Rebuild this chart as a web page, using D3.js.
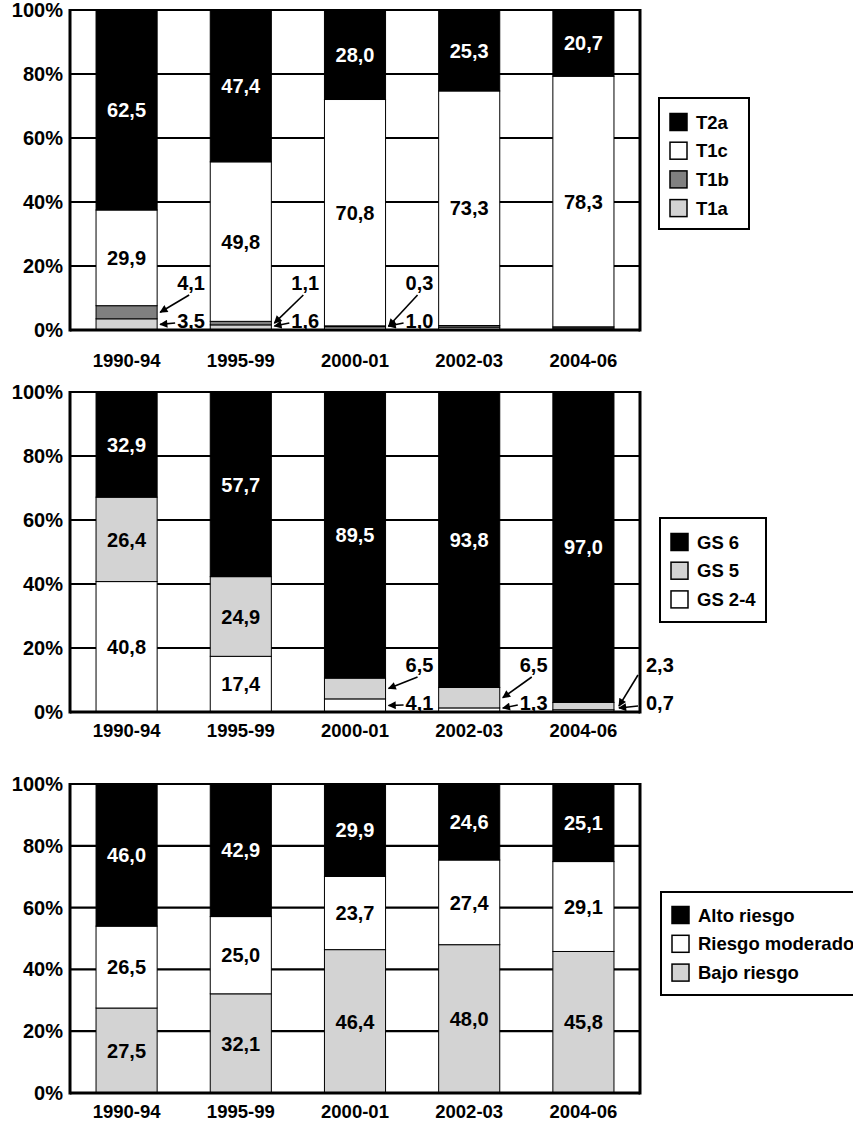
<!DOCTYPE html>
<html>
<head>
<meta charset="utf-8">
<script src="https://cdn.jsdelivr.net/npm/d3@7"></script>
<style>
  html, body { margin: 0; padding: 0; background: #fff; }
  svg { display: block; }
  text { font-family: "Liberation Sans", Arial, sans-serif; font-weight: bold; }
</style>
</head>
<body>
<svg id="chart" width="853" height="1124"></svg>
<script>
// ---------- DATA ----------
const periods = ["1990-94", "1995-99", "2000-01", "2002-03", "2004-06"];
const yTickValues = [0, 20, 40, 60, 80, 100];
const yTickLabels = ["0%", "20%", "40%", "60%", "80%", "100%"];

// Panel 1: clinical stage (bottom → top)
const stageKeys = ["T1a", "T1b", "T1c", "T2a"];
const stageT1a = [3.5, 1.6, 1.0, 0.9, 0.6];
const stageT1b = [4.1, 1.1, 0.3, 0.5, 0.4];
const stageT1c = [29.9, 49.8, 70.8, 73.3, 78.3];
const stageT2a = [62.5, 47.4, 28.0, 25.3, 20.7];
const stageAnnotated = ["1990-94", "1995-99", "2000-01"];

// Panel 2: Gleason score (bottom → top)
const gleasonKeys = ["GS 2-4", "GS 5", "GS 6"];
const gleason24 = [40.8, 17.4, 4.1, 1.3, 0.7];
const gleason5 = [26.4, 24.9, 6.5, 6.5, 2.3];
const gleason6 = [32.9, 57.7, 89.5, 93.8, 97.0];
const gleasonAnnotated = ["2000-01", "2002-03", "2004-06"];

// Panel 3: risk group (bottom → top)
const riskKeys = ["Bajo riesgo", "Riesgo moderado", "Alto riesgo"];
const riskBajo = [27.5, 32.1, 46.4, 48.0, 45.8];
const riskModerado = [26.5, 25.0, 23.7, 27.4, 29.1];
const riskAlto = [46.0, 42.9, 29.9, 24.6, 25.1];
const riskAnnotated = [];

// ---------- HELPERS ----------
const BLACK = "#000000", WHITE = "#ffffff", MID = "#808080", LIGHT = "#d3d3d3";
const fmt = v => d3.format(".1f")(v).replace(".", ",");
const svg = d3.select("#chart");

svg.append("defs").append("marker")
  .attr("id", "arrow")
  .attr("viewBox", "0 0 10 10")
  .attr("refX", 9).attr("refY", 5)
  .attr("markerWidth", 10).attr("markerHeight", 8)
  .attr("markerUnits", "userSpaceOnUse")
  .attr("orient", "auto")
  .append("path").attr("d", "M0,0 L10,5 L0,10 Z").attr("fill", BLACK);

const PLOT_LEFT = 70, PLOT_RIGHT = 640;

function drawPanel(cfg) {
  const rows = periods.map((p, i) => {
    const r = { period: p };
    cfg.keys.forEach((k, j) => { r[k] = cfg.series[j][i]; });
    return r;
  });
  const stacked = d3.stack().keys(cfg.keys).offset(d3.stackOffsetExpand)(rows);

  const x = d3.scaleBand().domain(periods).range([PLOT_LEFT, PLOT_RIGHT])
    .paddingInner(0.465).paddingOuter(0.228);
  const y = d3.scaleLinear().domain([0, 100]).range([cfg.bottom, cfg.top]);
  const color = d3.scaleOrdinal().domain(cfg.keys).range(cfg.colors);

  const g = svg.append("g");

  // background & gridlines
  g.append("rect").attr("x", PLOT_LEFT).attr("y", cfg.top)
    .attr("width", PLOT_RIGHT - PLOT_LEFT).attr("height", cfg.bottom - cfg.top)
    .attr("fill", WHITE);
  g.selectAll("line.grid").data(yTickValues).join("line")
    .attr("class", "grid")
    .attr("x1", PLOT_LEFT).attr("x2", PLOT_RIGHT)
    .attr("y1", d => y(d)).attr("y2", d => y(d))
    .attr("stroke", BLACK).attr("stroke-width", 2.2);

  // bars
  const layer = g.selectAll("g.layer").data(stacked).join("g")
    .attr("class", "layer").attr("fill", d => color(d.key));
  layer.selectAll("rect").data(d => d).join("rect")
    .attr("x", d => x(d.data.period))
    .attr("width", x.bandwidth())
    .attr("y", d => y(d[1] * 100))
    .attr("height", d => Math.max(0, y(d[0] * 100) - y(d[1] * 100)))
    .attr("stroke", BLACK).attr("stroke-width", 1);

  // frame (left, right, bottom)
  g.append("line").attr("x1", PLOT_LEFT).attr("x2", PLOT_LEFT)
    .attr("y1", cfg.top - 1).attr("y2", cfg.bottom + 1.5)
    .attr("stroke", BLACK).attr("stroke-width", 3);
  g.append("line").attr("x1", PLOT_RIGHT).attr("x2", PLOT_RIGHT)
    .attr("y1", cfg.top - 1).attr("y2", cfg.bottom + 1.5)
    .attr("stroke", BLACK).attr("stroke-width", 3);
  g.append("line").attr("x1", PLOT_LEFT).attr("x2", PLOT_RIGHT)
    .attr("y1", cfg.bottom).attr("y2", cfg.bottom)
    .attr("stroke", BLACK).attr("stroke-width", 3);

  // y axis labels
  const yAxis = d3.axisLeft(y).tickValues(yTickValues)
    .tickFormat((d, i) => yTickLabels[i]).tickSize(0).tickPadding(7);
  const ya = g.append("g").attr("transform", `translate(${PLOT_LEFT},0)`).call(yAxis);
  ya.select(".domain").remove();
  ya.selectAll("text").attr("font-size", 20).attr("fill", BLACK)
    .attr("font-family", "'Liberation Sans', Arial, sans-serif").attr("font-weight", "bold");

  // x axis labels
  const xAxis = d3.axisBottom(x).tickSize(0).tickPadding(0);
  const xa = g.append("g").attr("transform", `translate(0,${cfg.labelY})`).call(xAxis);
  xa.select(".domain").remove();
  xa.selectAll("text").attr("font-size", 18.5).attr("fill", BLACK)
    .attr("dy", "0.35em").attr("y", 0)
    .attr("font-family", "'Liberation Sans', Arial, sans-serif").attr("font-weight", "bold");

  // value labels inside / annotations outside
  stacked.forEach((s, j) => {
    s.forEach((d, i) => {
      const p = periods[i];
      const v = cfg.series[j][i];
      const mid = y((d[0] + d[1]) * 50);
      const annotate = cfg.annotated.includes(p) && v < 10;
      if (!annotate) {
        if (v < 10) return;
        g.append("text")
          .attr("x", x(p) + x.bandwidth() / 2).attr("y", mid)
          .attr("dy", "0.36em").attr("text-anchor", "middle")
          .attr("font-size", 20)
          .attr("fill", cfg.colors[j] === BLACK ? WHITE : BLACK)
          .text(fmt(v));
      } else {
        const barRight = x(p) + x.bandwidth();
        const outside = i === periods.length - 1;
        const tx = outside ? PLOT_RIGHT + 6 : barRight + 20;
        const upper = j === 1; // second-from-bottom segment gets the upper label
        const ty = upper ? cfg.bottom - 47 : cfg.bottom - 9;
        g.append("text").attr("x", tx).attr("y", ty).attr("dy", "0.36em")
          .attr("font-size", 20).attr("fill", BLACK).text(fmt(v));
        let tail;
        if (upper) tail = outside ? [PLOT_RIGHT - 2, cfg.bottom - 37] : [tx + 12, cfg.bottom - 35];
        else tail = outside ? [PLOT_RIGHT - 2, cfg.bottom - 6] : [tx - 2, cfg.bottom - 7];
        const tipX = barRight + (outside ? 5 : 3);
        const tipY = upper ? mid : Math.min(mid, cfg.bottom - 4);
        g.append("line")
          .attr("x1", tail[0]).attr("y1", tail[1])
          .attr("x2", tipX).attr("y2", upper ? tipY : tail[1] + (tipY - tail[1]) * 0.3 + (tipY - tail[1]) * 0.7)
          .attr("stroke", BLACK).attr("stroke-width", 1.6)
          .attr("marker-end", "url(#arrow)");
      }
    });
  });

  // legend (top series first)
  const lg = svg.append("g");
  lg.append("rect").attr("x", cfg.legend.x).attr("y", cfg.legend.y)
    .attr("width", cfg.legend.w).attr("height", cfg.legend.h)
    .attr("fill", WHITE).attr("stroke", BLACK).attr("stroke-width", 2);
  const items = cfg.keys.slice().reverse();
  items.forEach((k, n) => {
    const cy = cfg.legend.firstY + n * cfg.legend.step;
    lg.append("rect").attr("x", cfg.legend.x + 11).attr("y", cy - 8.5)
      .attr("width", 17).attr("height", 17)
      .attr("fill", color(k)).attr("stroke", BLACK).attr("stroke-width", 1.5);
    lg.append("text").attr("x", cfg.legend.x + 37).attr("y", cy).attr("dy", "0.36em")
      .attr("font-size", 18.5).attr("fill", BLACK).text(k);
  });
}

drawPanel({
  keys: stageKeys,
  series: [stageT1a, stageT1b, stageT1c, stageT2a],
  colors: [LIGHT, MID, WHITE, BLACK],
  annotated: stageAnnotated,
  top: 10, bottom: 330, labelY: 361,
  legend: { x: 659, y: 98, w: 90, h: 131, firstY: 122, step: 28.7 }
});

drawPanel({
  keys: gleasonKeys,
  series: [gleason24, gleason5, gleason6],
  colors: [WHITE, LIGHT, BLACK],
  annotated: gleasonAnnotated,
  top: 392, bottom: 712, labelY: 731,
  legend: { x: 660, y: 518, w: 106, h: 104, firstY: 542, step: 28.7 }
});

drawPanel({
  keys: riskKeys,
  series: [riskBajo, riskModerado, riskAlto],
  colors: [LIGHT, WHITE, BLACK],
  annotated: riskAnnotated,
  top: 784, bottom: 1093, labelY: 1112,
  legend: { x: 661, y: 892, w: 200, h: 103, firstY: 915, step: 28.8 }
});
</script>
</body>
</html>
